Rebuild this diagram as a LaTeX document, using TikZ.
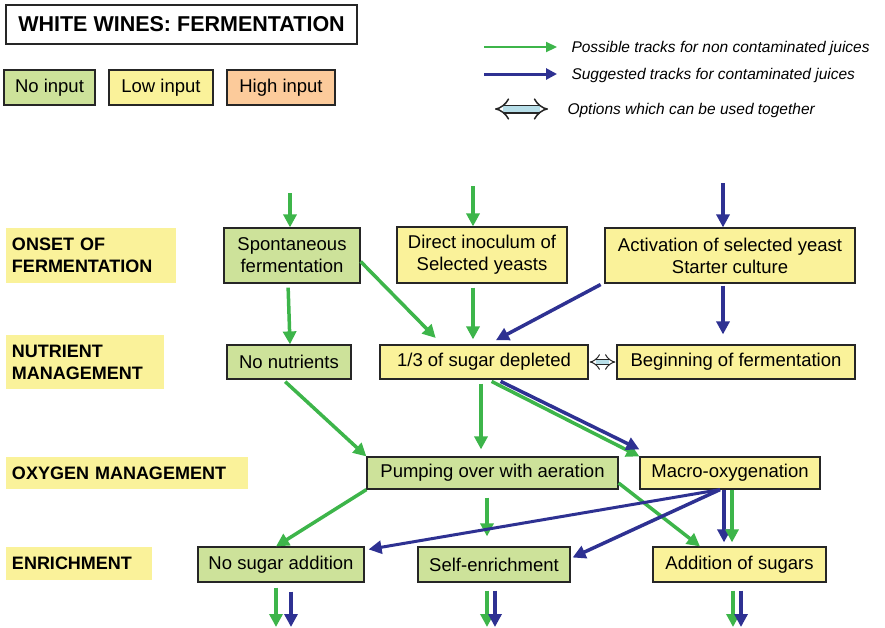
\documentclass[tikz,border=0pt]{standalone}
\usepackage{fontspec}
\setmainfont{Liberation Sans}
\usepackage{tikz}
\usetikzlibrary{arrows.meta}
\definecolor{nocol}{HTML}{CDE29A}
\definecolor{lowcol}{HTML}{FAF29A}
\definecolor{highcol}{HTML}{FCCB9B}
\definecolor{trackgreen}{HTML}{3DB54A}
\definecolor{trackblue}{HTML}{2E3192}
\definecolor{togethercol}{HTML}{B7DEE8}
\tikzset{box/.style={draw=black!85, line width=1.2pt, inner sep=0pt, align=center,
   font=\fontsize{18.5}{22}\selectfont},
 nobox/.style={box, fill=nocol},
 lowbox/.style={box, fill=lowcol},
 highbox/.style={box, fill=highcol},
 rowlabel/.style={fill=lowcol, inner sep=0pt, align=left,
   font=\fontsize{18}{22}\selectfont\bfseries},
 gtrack/.style={draw=trackgreen, line width=3.5pt, -{Triangle[length=13pt,width=13pt]}},
 btrack/.style={draw=trackblue, line width=3.5pt, -{Triangle[length=13pt,width=13pt]}},
 together/.style={draw=black!85, line width=1pt, double=togethercol, double distance=4.5pt,
   {Implies}-{Implies}},
 legtext/.style={anchor=west, font=\fontsize{15.5}{18}\selectfont\itshape},
 }

\begin{document}
\begin{tikzpicture}[x=1pt, y=-1pt]
        \useasboundingbox (0, 0) rectangle (885, 627);
        \node [box, minimum width=351pt, minimum height=39pt,
               font=\fontsize{21.5}{24}\selectfont\bfseries] (title) at (181.5, 24.5) {WHITE WINES: FERMENTATION};
        \node [nobox, minimum width=91pt, minimum height=35pt] (noin) at (49.5, 87.5) {No input};
        \node [lowbox, minimum width=104pt, minimum height=35pt] (lowin) at (161, 87.5) {Low input};
        \node [highbox, minimum width=108pt, minimum height=35pt] (highin) at (281, 87.5) {High input};

        \coordinate (gleg1) at (484, 47);
        \coordinate (gleg2) at (557, 47);
        \coordinate (bleg1) at (484, 74);
        \coordinate (bleg2) at (557, 74);
        \coordinate (dleg1) at (495, 109);
        \coordinate (dleg2) at (548, 109);
        \draw [gtrack, line width=2.2pt, -{Triangle[length=11pt,width=10pt]}] (gleg1) -- (gleg2);
        \draw [btrack, line width=3pt, -{Triangle[length=11pt,width=11pt]}] (bleg1) -- (bleg2);
        \draw [together, line width=1.5pt, double distance=6pt] (dleg1) -- (dleg2);
        \node [legtext] (gtext) at (568, 48) {Possible tracks for non contaminated juices};
        \node [legtext] (btext) at (568, 75) {Suggested tracks for contaminated juices};
        \node [legtext] (dtext) at (564, 110) {Options which can be used together};

        \node [rowlabel, minimum width=170pt, minimum height=55pt, text width=158pt] (onset) at (91, 255.5) {ONSET OF\\FERMENTATION};
        \node [rowlabel, minimum width=158pt, minimum height=54pt, text width=146pt] (nutr) at (85, 362) {NUTRIENT\\MANAGEMENT};
        \node [rowlabel, minimum width=242pt, minimum height=32pt, text width=230pt] (oxy) at (127, 473) {OXYGEN MANAGEMENT};
        \node [rowlabel, minimum width=146pt, minimum height=33pt, text width=134pt] (enrich) at (79, 563.5) {ENRICHMENT};

        \node [nobox, minimum width=136pt, minimum height=55pt] (spont) at (292, 255.5) {Spontaneous\\fermentation};
        \node [lowbox, minimum width=170pt, minimum height=56pt] (direct) at (482, 255) {Direct inoculum of\\Selected yeasts};
        \node [lowbox, minimum width=250pt, minimum height=55pt] (activ) at (730, 255.5) {Activation of selected yeast\\Starter culture};
        \node [nobox, minimum width=124pt, minimum height=34pt] (nonutr) at (289, 362) {No nutrients};
        \node [lowbox, minimum width=208pt, minimum height=34pt] (third) at (484, 362) {1/3 of sugar depleted};
        \node [lowbox, minimum width=238pt, minimum height=34pt] (begin) at (736, 362) {Beginning of fermentation};
        \node [nobox, minimum width=251pt, minimum height=32pt] (pump) at (492.5, 473) {Pumping over with aeration};
        \node [lowbox, minimum width=180pt, minimum height=32pt] (macro) at (730, 473) {Macro-oxygenation};
        \node [nobox, minimum width=166pt, minimum height=35pt] (nosugar) at (281, 564.5) {No sugar addition};
        \node [nobox, minimum width=152pt, minimum height=35pt] (selfenr) at (494, 564.5) {Self-enrichment};
        \node [lowbox, minimum width=173pt, minimum height=35pt] (addsug) at (739.5, 564.5) {Addition of sugars};

        \coordinate (inspont) at (290, 193);
        \coordinate (indirect) at (473, 186);
        \coordinate (inactiv) at (723, 183);
        \draw [gtrack] (inspont) -- ([xshift=-2pt]spont.north);
        \draw [gtrack] (indirect) -- ([xshift=-9pt]direct.north);
        \draw [btrack] (inactiv) -- ([xshift=-7pt]activ.north);

        \draw [gtrack, shorten <=4pt] ([xshift=-4pt]spont.south) -- ([xshift=1pt]nonutr.north);
        \draw [gtrack, shorten >=9pt] ([yshift=-6pt]spont.east) -- ([xshift=-42pt]third.north);
        \draw [gtrack, shorten <=4pt, shorten >=5pt] ([xshift=-9pt]direct.south) -- ([xshift=-11pt]third.north);
        \draw [btrack, shorten <=2pt, shorten >=9pt] ([xshift=-2pt]activ.south west) -- ([xshift=4pt]third.north);
        \draw [btrack, shorten <=2pt, shorten >=10pt] ([xshift=-7pt]activ.south) -- ([xshift=-13pt]begin.north);
        \draw [together] ([xshift=1pt]third.east) -- ([xshift=-1pt]begin.west);

        \draw [gtrack, shorten <=3pt] ([xshift=-6pt]nonutr.south) -- (pump.north west);
        \draw [gtrack, shorten <=4pt, shorten >=7pt] ([xshift=-3pt]third.south) -- ([xshift=-11.5pt]pump.north);
        \draw [gtrack, shorten <=4pt] ([xshift=4pt]third.south) -- (macro.north west);
        \draw [btrack, shorten <=4pt] ([xshift=13pt]third.south) -- ([yshift=7pt]macro.north west);

        \draw [gtrack] (pump.south west) -- ([xshift=-5pt]nosugar.north);
        \draw [gtrack, shorten <=8pt, shorten >=10pt] ([xshift=-5.5pt]pump.south) -- ([xshift=-7pt]selfenr.north);
        \draw [gtrack] ([yshift=-10pt]pump.east) -- ([xshift=-39.5pt]addsug.north);
        \draw [btrack, line width=3pt] ([xshift=-10pt]macro.south) -- ([xshift=4pt, yshift=-3pt]nosugar.north east);
        \draw [btrack] ([xshift=-10pt]macro.south) -- ([xshift=2pt, yshift=7pt]selfenr.east);
        \draw [btrack, shorten >=4pt] ([xshift=-6pt]macro.south) -- ([xshift=-15.5pt]addsug.north);
        \draw [gtrack, shorten >=4pt] ([xshift=2pt]macro.south) -- ([xshift=-7.5pt]addsug.north);

        \coordinate (outnosugarg) at (276, 627);
        \coordinate (outnosugarb) at (291, 627);
        \coordinate (outselfg) at (487, 627);
        \coordinate (outselfb) at (495, 627);
        \coordinate (outaddg) at (733, 627);
        \coordinate (outaddb) at (741, 627);
        \draw [gtrack, shorten <=5pt] ([xshift=-5pt]nosugar.south) -- (outnosugarg);
        \draw [btrack, shorten <=9pt] ([xshift=10pt]nosugar.south) -- (outnosugarb);
        \draw [gtrack, shorten <=8pt] ([xshift=-7pt]selfenr.south) -- (outselfg);
        \draw [btrack, shorten <=8pt] ([xshift=1pt]selfenr.south) -- (outselfb);
        \draw [gtrack, shorten <=8pt] ([xshift=-6.5pt]addsug.south) -- (outaddg);
        \draw [btrack, shorten <=8pt] ([xshift=1.5pt]addsug.south) -- (outaddb);
    \end{tikzpicture}
\end{document}
